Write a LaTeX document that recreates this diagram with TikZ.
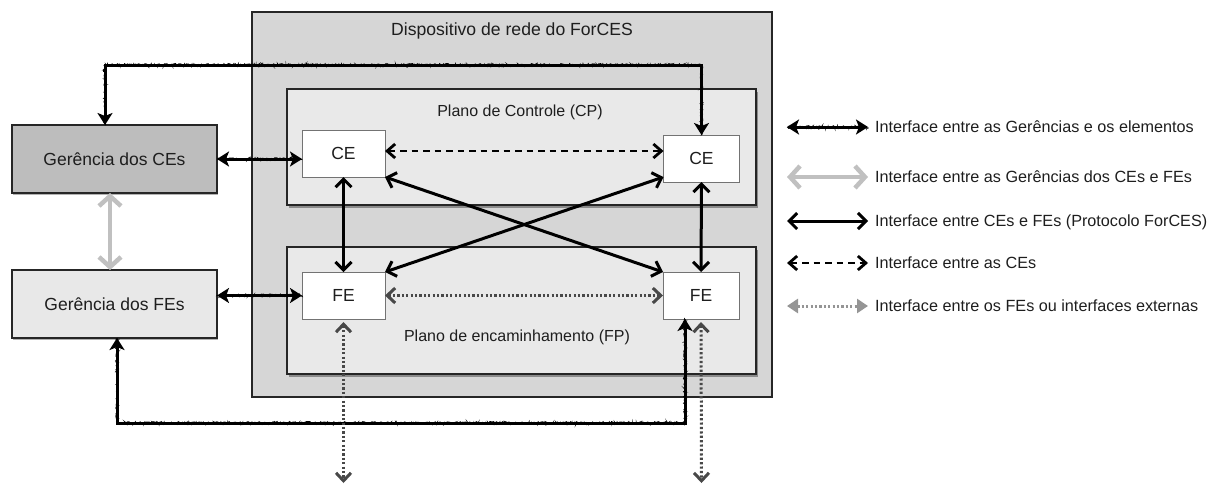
\documentclass[tikz,border=0pt]{standalone}
\usepackage{fontspec}
\setmainfont{Liberation Sans}
\usetikzlibrary{arrows.meta,decorations.pathmorphing,shadows,calc}
\definecolor{devfill}{HTML}{D6D6D6}
\definecolor{planefill}{HTML}{E9E9E9}
\definecolor{gcefill}{HTML}{BDBDBD}
\definecolor{gfefill}{HTML}{E8E8E8}
\definecolor{txt}{HTML}{1E1E1E}
\definecolor{dotgray}{HTML}{484848}
\definecolor{lightarrow}{HTML}{C0C0C0}
\definecolor{legdot}{HTML}{959595}
\begin{document}
\begin{tikzpicture}[x=1pt,y=-1pt,
  every node/.style={inner sep=0pt, outer sep=0pt, text=txt},
  framebox/.style={draw=black!85, line width=1.1pt, rectangle},
  planebox/.style={framebox, fill=planefill, drop shadow={shadow xshift=1.5pt, shadow yshift=-2.5pt, opacity=0.35, fill=black}},
  elembox/.style={draw=black!55, line width=0.9pt, fill=white, font=\fontsize{17.5}{17.5}\selectfont},
  mgmtbox/.style={framebox, drop shadow={shadow xshift=1pt, shadow yshift=-1.5pt, opacity=0.3, fill=black}, font=\fontsize{17.5}{17.5}\selectfont},
  lbl/.style={text height=12pt, text depth=0pt},
  roughline/.style={line width=3pt, black,
    {Stealth[length=12pt,width=15pt,inset=3pt]}-{Stealth[length=12pt,width=15pt,inset=3pt]},
    postaction={draw, arrows=-, line width=0.7pt, decorate,
      decoration={random steps, segment length=0.7pt, amplitude=1.5pt}}},
  protoline/.style={line width=3pt, black,
    {Straight Barb[length=8pt,width=16pt]}-{Straight Barb[length=8pt,width=16pt]}},
  celine/.style={line width=2.8pt, black, dash pattern=on 6.5pt off 5pt,
    {Straight Barb[length=8pt,width=14pt]}-{Straight Barb[length=8pt,width=14pt]}},
  feline/.style={line width=3pt, dotgray, dash pattern=on 2.2pt off 2.2pt,
    {Straight Barb[length=8pt,width=15pt]}-{Straight Barb[length=8pt,width=15pt]}},
  mgmtline/.style={line width=4.5pt, lightarrow,
    {Straight Barb[length=10pt,width=22pt]}-{Straight Barb[length=10pt,width=22pt]}},
  legfeline/.style={line width=3pt, legdot, dash pattern=on 2.2pt off 2.2pt,
    {Triangle[length=11pt,width=14pt]}-{Triangle[length=11pt,width=14pt]}},
  legtext/.style={anchor=west, font=\fontsize{16.2}{16.2}\selectfont, text height=11.6pt, text depth=0pt}
]
\useasboundingbox (0,0) rectangle (1217,488);

% containers
\node[framebox, fill=devfill, minimum width=520pt, minimum height=385pt] (dev) at (512,204.5) {};
\node[lbl, font=\fontsize{17.6}{17.6}\selectfont] (devlbl) at (512,29) {Dispositivo de rede do ForCES};
\node[planebox, minimum width=469pt, minimum height=116pt] (cp) at (521.5,147) {};
\node[planebox, minimum width=469pt, minimum height=127pt] (fp) at (521.5,310.5) {};
\node[lbl, font=\fontsize{16}{16}\selectfont] (cplbl) at (520,110) {Plano de Controle (CP)};
\node[lbl, font=\fontsize{16}{16}\selectfont] (fplbl) at (517,335) {Plano de encaminhamento (FP)};

% elements
\node[elembox, minimum width=83pt, minimum height=47pt] (ceL) at (343.5,153.5) {CE};
\node[elembox, minimum width=76pt, minimum height=47pt] (ceR) at (701.5,158.5) {CE};
\node[elembox, minimum width=83pt, minimum height=47pt] (feL) at (343.5,295.5) {FE};
\node[elembox, minimum width=76pt, minimum height=47pt] (feR) at (701,295.5) {FE};

% management
\node[mgmtbox, fill=gcefill, minimum width=205pt, minimum height=68pt] (gCE) at (114.5,159) {Gerência dos CEs};
\node[mgmtbox, fill=gfefill, minimum width=205pt, minimum height=68pt] (gFE) at (114.5,304) {Gerência dos FEs};

% external coordinates
\coordinate (extL) at (343.5,483);
\coordinate (extR) at (701.5,483);

% connectors
\draw[mgmtline] ([xshift=-4.5pt]gCE.south) -- ([xshift=-4.5pt]gFE.north);
\draw[roughline] ([xshift=-9.5pt]gCE.north) -- ++(0,-60) -| (ceR.north);
\draw[roughline] ([xshift=2.5pt]gFE.south) -- ++(0,85) -| ([xshift=-16pt]feR.south);
\draw[roughline] (gCE.east) -- (gCE.east -| ceL.west);
\draw[roughline] (feL.west -| gFE.east) -- (feL.west);
\draw[celine] ([yshift=2.5pt]ceL.east) -- ([yshift=2.5pt]ceL.east -| ceR.west);
\draw[protoline] (ceL.south) -- (feL.north);
\draw[protoline] (ceR.south) -- (feR.north);
\draw[protoline] (ceL.south east) -- (feR.north west);
\draw[protoline] (feL.north east) -- ([yshift=5pt]ceR.south west);
\draw[feline] (feL.east) -- (feR.west);
\draw[feline] ([yshift=-3pt]feL.south) -- (extL);
\draw[feline] ([yshift=-3pt]feR.south) -- (extR);

% legend
\foreach \n/\yy in {1/127,2/177,3/221,4/263,5/306}{
  \coordinate (la\n) at (787,\yy);
  \coordinate (lb\n) at (868,\yy);
}
\draw[roughline] (la1) -- (lb1);
\draw[mgmtline] (la2) -- (lb2);
\draw[protoline] (la3) -- (lb3);
\draw[celine] (la4) -- (lb4);
\draw[legfeline] (la5) -- (lb5);
\node[legtext] (lt1) at (875,127) {Interface entre as Gerências e os elementos};
\node[legtext] (lt2) at (875,177) {Interface entre as Gerências dos CEs e FEs};
\node[legtext] (lt3) at (875,221) {Interface entre CEs e FEs (Protocolo ForCES)};
\node[legtext] (lt4) at (875,263) {Interface entre as CEs};
\node[legtext] (lt5) at (875,306) {Interface entre os FEs ou interfaces externas};
\end{tikzpicture}
\end{document}
